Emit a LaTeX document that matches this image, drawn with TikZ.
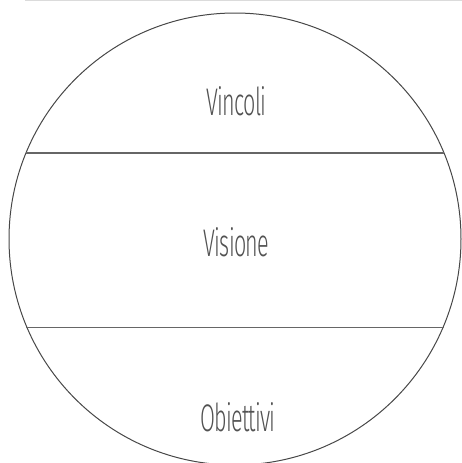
\documentclass[tikz,border=0pt]{standalone}
\usepackage{fontspec}
\setmainfont{Fira Sans}[UprightFont=* Light, FakeStretch=0.56, LetterSpace=-2]
\begin{document}
\begin{tikzpicture}[x=1pt,y=-1pt,
  sep/.style={draw=black!60, line width=1.3pt},
  ring/.style={draw=black!72, line width=1pt},
  lbl/.style={text=black!68, font=\fontsize{38.5}{40}\selectfont, inner sep=0pt, anchor=base}]
\useasboundingbox (0,0) rectangle (462,463);
\clip (0,0) rectangle (462,463);
\draw[draw=black!14, line width=1.5pt] (25,0.5) -- (462,0.5);
\node[ring, circle, minimum size=452pt, inner sep=0pt] (c) at (235,239) {};
\coordinate (l1) at (26,153);
\coordinate (r1) at (444,153);
\coordinate (l2) at (26,327.5);
\coordinate (r2) at (444,327.5);
\draw[sep] (l1) -- (r1);
\draw[sep] (l2) -- (r2);
\node[lbl] (v1) at (236.5,115) {Vincoli};
\node[lbl] (v2) at (236.5,256) {Visione};
\node[lbl] (v3) at (238,431) {Obiettivi};
\end{tikzpicture}
\end{document}
